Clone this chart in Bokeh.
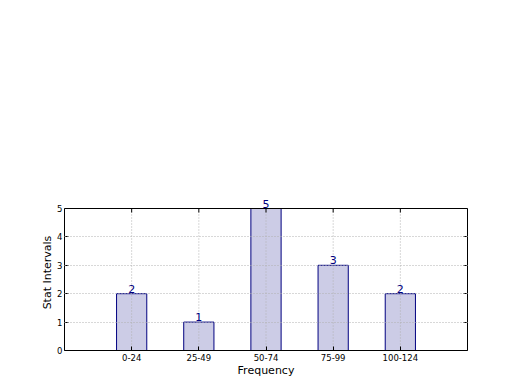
import math
from bokeh.plotting import figure
from bokeh.models import Range1d, FixedTicker, LinearAxis, ColumnDataSource, Label, Span
from bokeh.embed import file_html
from bokeh.resources import INLINE

categories = ["0-24", "25-49", "50-74", "75-99", "100-124"]
counts = [2, 1, 5, 3, 2]
y_ticks = [0, 1, 2, 3, 4, 5]

positions = list(range(len(categories)))
y_max = y_ticks[-1]
src = ColumnDataSource(dict(x=positions, top=counts))

FONT = "DejaVu Sans"
PLOT_H = 142          # pixel height of the axes box (0..y_max)
HEADROOM = 14         # extra pixels above the box so the top value label is not clipped

p = figure(width=512, height=382, output_backend="svg", toolbar_location=None,
           x_range=Range1d(-1, len(categories)),
           y_range=Range1d(0, y_max * (PLOT_H + HEADROOM) / PLOT_H),
           min_border_left=64, min_border_right=45, min_border_top=208 - HEADROOM,
           min_border_bottom=32, frame_width=403, frame_height=PLOT_H + HEADROOM)
p.background_fill_color = "white"
p.border_fill_color = "white"
p.outline_line_color = None

p.vbar(x="x", top="top", width=0.45, bottom=0, source=src,
       fill_color="navy", fill_alpha=0.2, line_color="navy", line_width=1)

# dotted vertical grid lines (drawn above bars, limited to the axes box)
p.segment(x0=positions, y0=[0] * len(positions), x1=positions, y1=[y_max] * len(positions),
          line_color="#b0b0b0", line_dash="1 2", line_width=1)
p.xgrid.visible = False
p.ygrid.ticker = FixedTicker(ticks=y_ticks[:-1])
p.ygrid.grid_line_color = "#b0b0b0"
p.ygrid.grid_line_dash = "1 2"
p.ygrid.level = "overlay"

# top edge of the box and inward top ticks
p.add_layout(Span(location=y_max, dimension="width", line_color="black", line_width=1,
                  level="overlay"))
p.ray(x=positions, y=[y_max] * len(positions), length=4, length_units="screen",
      angle=-math.pi / 2, line_color="black", line_width=1)

for xi, c in zip(positions, counts):
    p.add_layout(Label(x=xi, y=c, text=str(c), text_align="center",
                       text_baseline="bottom", y_offset=1, text_color="navy",
                       text_font_size="11px", text_font=FONT, level="overlay"))

# axes
p.xaxis.ticker = FixedTicker(ticks=positions)
p.xaxis.major_label_overrides = {i: c for i, c in zip(positions, categories)}
p.yaxis.ticker = FixedTicker(ticks=y_ticks)
p.yaxis.bounds = (0, y_max)
for ax in [p.xaxis[0], p.yaxis[0]]:
    ax.major_tick_in = 4
    ax.major_tick_out = 0
    ax.minor_tick_line_color = None
    ax.axis_line_color = "black"
    ax.major_tick_line_color = "black"
    ax.major_label_text_font = FONT
    ax.major_label_text_font_size = "8.5px"
    ax.major_label_text_color = "black"
    ax.axis_label_text_font = FONT
    ax.axis_label_text_font_size = "11px"
    ax.axis_label_text_font_style = "normal"
    ax.axis_label_text_color = "black"
p.xaxis.major_label_standoff = 3
p.xaxis.axis_label_standoff = 0
p.yaxis.major_label_standoff = 2
p.yaxis.axis_label_standoff = 0

p.xaxis.axis_label = "Frequency"
p.yaxis.axis_label = "Stat Intervals"

right = LinearAxis(ticker=FixedTicker(ticks=y_ticks), major_label_text_font_size="0px",
                   major_tick_in=4, major_tick_out=0, minor_tick_line_color=None,
                   axis_line_color="black", major_label_standoff=0, bounds=(0, y_max))
p.add_layout(right, "right")

open("out.html", "w").write(file_html(p, INLINE))
